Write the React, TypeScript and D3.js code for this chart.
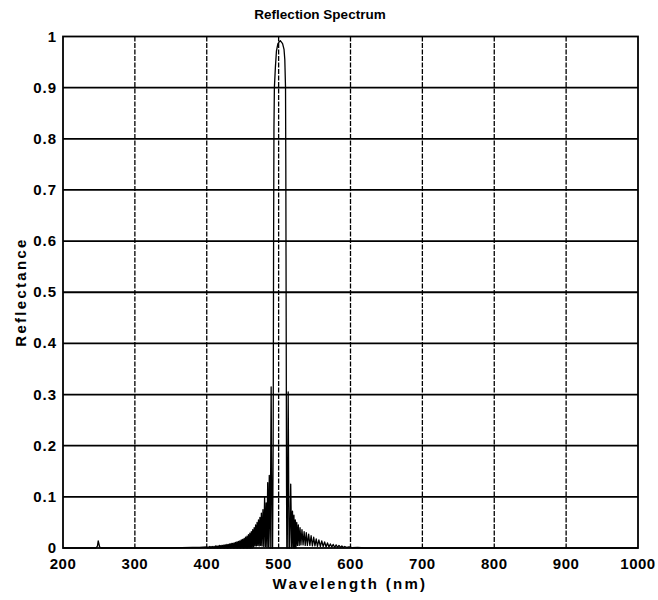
import React from 'react';
import * as d3 from 'd3';

// [wavelength nm, reflectance]
const baselineLeft: [number, number][] = [
  [200, 0], [246, 0], [248, 0.004], [249, 0.014], [250, 0.008], [251, 0.002], [253, 0],
  [300, 0], [350, 0], [380, 0.001], [390, 0.001],
];
const leftTail: [number, number][] = [
  [400, 0.002], [401, 0], [402, 0.002], [403, 0], [404, 0.003], [405, 0], [406, 0.003], [407, 0],
  [408, 0.003], [409, 0], [410, 0.003], [411, 0], [412, 0.004], [413, 0], [414, 0.004], [415, 0],
  [416, 0.004], [417, 0], [418, 0.005], [419, 0], [420, 0.005], [421, 0], [422, 0.005], [423, 0],
  [424, 0.006], [425, 0], [426, 0.006], [427, 0], [428, 0.007], [429, 0], [430, 0.007], [431, 0],
  [432, 0.008], [433, 0], [434, 0.009], [435, 0], [436, 0.009], [437, 0], [438, 0.01], [439, 0],
  [440, 0.011], [441, 0], [442, 0.012], [443, 0], [444, 0.013], [445, 0], [446, 0.014], [447, 0],
  [448, 0.016], [449, 0], [450, 0.017], [451, 0], [452, 0.019], [453, 0], [454, 0.021], [455, 0],
  [456, 0.023], [457, 0], [458, 0.026], [459, 0], [460, 0.029], [461, 0], [462, 0.032], [463, 0],
  [464, 0.036], [465, 0.002],
];
const leftLobes: [number, number][] = [
  [466, 0.04], [467, 0.004], [468, 0.045], [469, 0.004], [470, 0.05], [471, 0.005], [472, 0.055],
  [473, 0.004], [474, 0.06], [475, 0.005], [476, 0.068], [477, 0.004], [478.2, 0.075], [479.3, 0.003],
  [480.5, 0.1], [481.6, 0.003], [482.7, 0.088], [483.7, 0.002], [484.8, 0.128], [485.8, 0.002],
  [487, 0.142], [488.3, 0], [489.6, 0.315], [490.8, 0], [491.6, 0],
];
const mainLobe: [number, number][] = [
  [492.4, 0.2], [493, 0.6], [493.5, 0.82], [494.1, 0.9], [495.5, 0.94], [497, 0.972], [499, 0.986],
  [502.3, 0.992], [505.5, 0.986], [507.5, 0.975], [508.6, 0.955], [509.6, 0.9], [510, 0.75],
  [510.5, 0.45], [511, 0.12], [511.4, 0],
];
const rightLobes: [number, number][] = [
  [512, 0], [513.3, 0.305], [514.5, 0], [515.5, 0], [516.8, 0.125], [518.2, 0], [519.3, 0.072],
  [520.3, 0], [521.3, 0.064], [522.2, 0], [523.2, 0.055], [524.1, 0], [525.2, 0.05], [526.2, 0.005],
  [527.4, 0.045], [528.6, 0.005], [529.8, 0.04], [531, 0.006], [532.5, 0.036], [534, 0.006],
  [535.5, 0.032], [537, 0.005], [538.5, 0.03], [540, 0.005], [541.8, 0.027], [543.5, 0.005],
  [545.2, 0.024], [547, 0.004], [548.8, 0.021], [550.5, 0.004], [552.3, 0.018], [554, 0.003],
  [556, 0.016], [558, 0.003], [560, 0.014], [562, 0.003], [564, 0.012], [566, 0.002],
];
const rightTail: [number, number][] = [
  [568, 0.01], [570, 0.002], [572, 0.008], [574, 0.002], [576, 0.007], [578, 0.001], [580, 0.006],
  [582, 0.001], [584, 0.005], [586, 0.001], [588, 0.004], [590, 0.001], [592, 0.003], [595, 0.001],
  [598, 0.002], [602, 0.0005], [610, 0.001], [620, 0], [1000, 0],
];

const xTicks = [200, 300, 400, 500, 600, 700, 800, 900, 1000];
const yTicks = [0, 0.1, 0.2, 0.3, 0.4, 0.5, 0.6, 0.7, 0.8, 0.9, 1];
const yTickLabels = ['0', '0.1', '0.2', '0.3', '0.4', '0.5', '0.6', '0.7', '0.8', '0.9', '1'];
const titleText = 'Reflection Spectrum';
const xLabelText = 'Wavelength (nm)';
const yLabelText = 'Reflectance';

const FONT = '"Liberation Sans", Arial, Helvetica, sans-serif';

export default function App() {
  const left = 63, right = 638, top = 36.5, bottom = 548;
  const x = d3.scaleLinear().domain([200, 1000]).range([left, right]);
  const y = d3.scaleLinear().domain([0, 1]).range([bottom, top]);
  const data = [...baselineLeft, ...leftTail, ...leftLobes, ...mainLobe, ...rightLobes, ...rightTail];
  const line = d3.line<[number, number]>().x(d => x(d[0])).y(d => y(d[1]));

  return (
    <svg width={658} height={600} style={{ position: 'absolute', left: 0, top: 0, background: '#fff' }}>
      <rect x={0} y={0} width={658} height={600} fill="#fff" />
      {/* horizontal grid */}
      {yTicks.slice(1, -1).map(t => (
        <line key={'h' + t} x1={left} x2={right} y1={y(t)} y2={y(t)} stroke="#000" strokeWidth={1.8} />
      ))}
      {/* vertical grid */}
      {xTicks.slice(1, -1).map(t => (
        <line key={'v' + t} x1={x(t)} x2={x(t)} y1={top} y2={bottom} stroke="#000" strokeWidth={1.3} strokeDasharray="5,1.5" />
      ))}
      {/* data */}
      <path d={line(data) || ''} fill="none" stroke="#000" strokeWidth={1.3} strokeLinejoin="round" />
      {/* axes box */}
      <rect x={left} y={top} width={right - left} height={bottom - top} fill="none" stroke="#000" strokeWidth={1.8} />
      {/* x tick labels */}
      {xTicks.map(t => (
        <text key={'xl' + t} x={x(t)} y={569} textAnchor="middle" fontFamily={FONT} fontSize={15} fontWeight="bold" letterSpacing={0.5}>{t}</text>
      ))}
      {/* y tick labels */}
      {yTicks.map((t, i) => (
        <text key={'yl' + t} x={57} y={y(t) + 5} textAnchor="end" fontFamily={FONT} fontSize={15} fontWeight="bold" letterSpacing={1}>{yTickLabels[i]}</text>
      ))}
      <text x={320} y={19} textAnchor="middle" fontFamily={FONT} fontSize={13.5} fontWeight="bold">{titleText}</text>
      <text x={350} y={589} textAnchor="middle" fontFamily={FONT} fontSize={15} fontWeight="bold" letterSpacing={2.3}>{xLabelText}</text>
      <text transform="translate(26,292) rotate(-90)" textAnchor="middle" fontFamily={FONT} fontSize={15} fontWeight="bold" letterSpacing={2.3}>{yLabelText}</text>
    </svg>
  );
}
